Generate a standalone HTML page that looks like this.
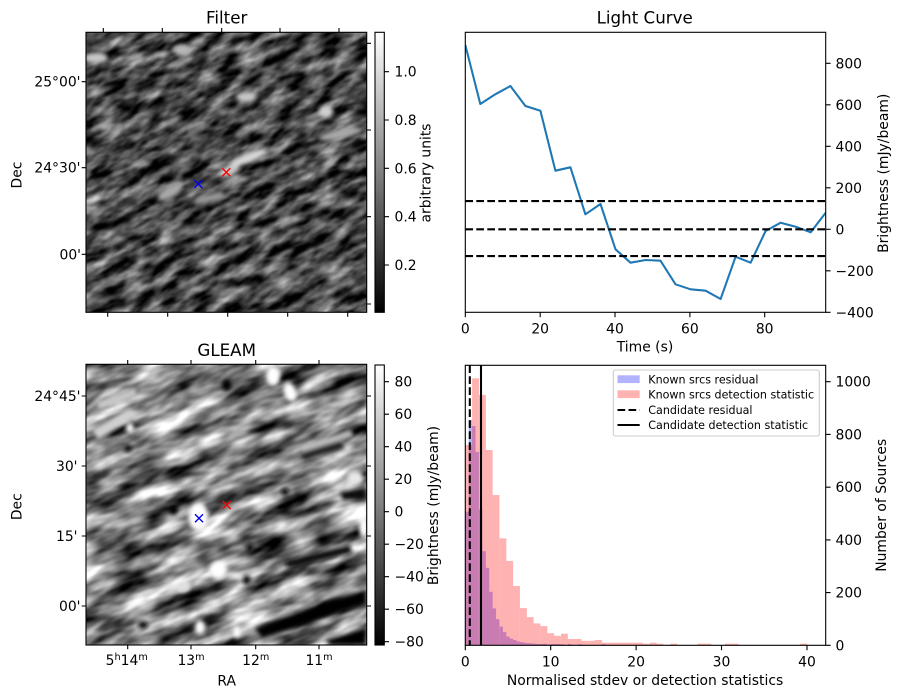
<!DOCTYPE html>
<html><head><meta charset="utf-8"><style>
html,body{margin:0;padding:0;background:#fff;width:902px;height:699px;overflow:hidden;}
svg{display:block;}
text{font-family:"DejaVu Sans","Liberation Sans",sans-serif;fill:#000;}
</style></head><body>
<svg width="902" height="699" viewBox="0 0 902 699" xmlns="http://www.w3.org/2000/svg">
<defs>
  <clipPath id="c1"><rect x="86" y="32.3" width="280.7" height="280"/></clipPath>
  <clipPath id="c2"><rect x="86" y="364.3" width="280.7" height="280.7"/></clipPath>
  <clipPath id="c3"><rect x="465.3" y="32.3" width="360.4" height="280"/></clipPath>
  <clipPath id="c4"><rect x="465.3" y="365.3" width="360.4" height="280"/></clipPath>
  <filter id="n1" filterUnits="userSpaceOnUse" x="30" y="-24" width="392" height="392" color-interpolation-filters="sRGB">
    <feTurbulence type="fractalNoise" baseFrequency="0.038 0.1" numOctaves="3" seed="7"/>
    <feColorMatrix type="matrix" values="1.35 0 0 0 -0.39  1.35 0 0 0 -0.39  1.35 0 0 0 -0.39  0 0 0 0 1"/>
    <feGaussianBlur stdDeviation="0.8"/>
  </filter>
  <filter id="n2" filterUnits="userSpaceOnUse" x="30" y="309" width="392" height="392" color-interpolation-filters="sRGB">
    <feTurbulence type="fractalNoise" baseFrequency="0.022 0.065" numOctaves="3" seed="11"/>
    <feColorMatrix type="matrix" values="1.75 0 0 0 -0.37  1.75 0 0 0 -0.37  1.75 0 0 0 -0.37  0 0 0 0 1"/>
    <feGaussianBlur stdDeviation="0.8"/>
  </filter>
  <filter id="bl" x="-50%" y="-50%" width="200%" height="200%"><feGaussianBlur stdDeviation="2"/></filter>
  <linearGradient id="cb" x1="0" y1="1" x2="0" y2="0">
    <stop offset="0" stop-color="#000"/><stop offset="1" stop-color="#fff"/>
  </linearGradient>
</defs>

<!-- ===== Filter image ===== -->
<g clip-path="url(#c1)">
  <rect x="86" y="32.3" width="280.7" height="280" fill="#444"/>
  <g transform="rotate(-28 226 172)">
    <rect x="226" y="172" width="1" height="1" fill="#444" filter="url(#n1)"/>
  </g>
  <g filter="url(#bl)">
    <ellipse cx="248" cy="158" rx="20" ry="5" fill="#d8d8d8" transform="rotate(-22 248 158)"/>
    <ellipse cx="230" cy="170" rx="10" ry="4" fill="#cccccc" transform="rotate(-20 230 170)"/>
    <ellipse cx="170" cy="192" rx="14" ry="6" fill="#a8a8a8" transform="rotate(-30 170 192)"/>
    <ellipse cx="326" cy="112" rx="7" ry="6" fill="#d0d0d0"/>
    <ellipse cx="246" cy="97" rx="10" ry="5" fill="#c8c8c8"/>
    <ellipse cx="182" cy="50" rx="9" ry="6" fill="#b8b8b8"/>
    <ellipse cx="96" cy="58" rx="12" ry="5" fill="#c8c8c8"/>
    <ellipse cx="340" cy="134" rx="22" ry="5" fill="#a8a8a8" transform="rotate(-12 340 134)"/>
    <ellipse cx="210" cy="198" rx="16" ry="4" fill="#9a9a9a" transform="rotate(-12 210 198)"/>
  </g>
</g>
<rect x="86" y="32.3" width="280.7" height="280" fill="none" stroke="#000" stroke-width="1.1"/>
<g stroke-width="1.4" fill="none">
  <path d="M222.3 168.3 L230.3 176.3 M230.3 168.3 L222.3 176.3" stroke="#f00"/>
  <path d="M194.3 180 L202.3 188 M202.3 180 L194.3 188" stroke="#00f"/>
</g>
<g stroke="#000" stroke-width="1.1">
  <path d="M81.7 81.7H86 M81.7 167.7H86 M81.7 254.3H86"/>
  <path d="M366.7 43.3H371 M366.7 130H371 M366.7 216.7H371 M366.7 304H371"/>
  <path d="M103.3 28V32.3 M162.3 28V32.3 M221.7 28V32.3 M280 28V32.3 M339 28V32.3"/>
  <path d="M107.7 312.3V316.7 M167.7 312.3V316.7 M227.7 312.3V316.7 M287.7 312.3V316.7 M347.7 312.3V316.7"/>
</g>
<g font-size="13.9" text-anchor="end">
  <text x="80.5" y="86.7">25°00'</text>
  <text x="80.5" y="172.7">24°30'</text>
  <text x="81" y="259.3">00'</text>
</g>
<text x="226.7" y="23.5" font-size="16.7" text-anchor="middle">Filter</text>
<text transform="translate(21.5 175) rotate(-90)" font-size="13.9" text-anchor="middle">Dec</text>

<rect x="375" y="32.3" width="9.3" height="280" fill="url(#cb)" stroke="#000" stroke-width="1.1"/>
<g stroke="#000" stroke-width="1.1">
  <path d="M384.3 71.7H389 M384.3 120H389 M384.3 168.3H389 M384.3 216.7H389 M384.3 265H389"/>
</g>
<g font-size="13.9">
  <text x="394.5" y="76.7">1.0</text>
  <text x="394.5" y="125">0.8</text>
  <text x="394.5" y="173.3">0.6</text>
  <text x="394.5" y="221.7">0.4</text>
  <text x="394.5" y="270">0.2</text>
</g>
<text transform="translate(430.5 173) rotate(-90)" font-size="13.9" text-anchor="middle">arbitrary units</text>

<!-- ===== GLEAM image ===== -->
<g clip-path="url(#c2)">
  <rect x="86" y="364.3" width="280.7" height="280.7" fill="#808080"/>
  <g transform="rotate(-22 226 505)">
    <rect x="226" y="505" width="1" height="1" fill="#808080" filter="url(#n2)"/>
  </g>
  <g filter="url(#bl)">
    <path d="M255 628 L300 612 L340 598 L366 590 L366 604 L340 612 L300 626 L262 638 Z" fill="#000"/>
    <path d="M325 640 L366 628 L366 645 L330 645 Z" fill="#000"/>
    <path d="M285 561 L320 552 L350 545 L352 553 L322 560 L288 568 Z" fill="#111"/>
    <path d="M340 492 L366 487 L366 500 L342 500 Z" fill="#111"/>
    <path d="M300 452 L340 440 L345 448 L304 460 Z" fill="#222"/>
    <ellipse cx="226.7" cy="385" rx="5" ry="6" fill="#000"/>
    <ellipse cx="173.3" cy="510" rx="5" ry="5" fill="#000"/>
    <ellipse cx="128" cy="448" rx="4" ry="4" fill="#111"/>
    <ellipse cx="285" cy="492" rx="4" ry="4" fill="#111"/>
    <ellipse cx="250" cy="548" rx="4" ry="5" fill="#111"/>
    <ellipse cx="246.7" cy="580" rx="4" ry="5" fill="#111"/>
    <ellipse cx="143" cy="625" rx="5" ry="4" fill="#111"/>
    <ellipse cx="130" cy="420" rx="3" ry="4" fill="#111"/>
    <path d="M92 430 L130 408 L138 416 L98 440 Z" fill="#d0d0d0"/>
    <path d="M96 402 L135 388 L138 396 L100 410 Z" fill="#c8c8c8"/>
    <path d="M300 446 L350 430 L354 436 L302 452 Z" fill="#c0c0c0"/>
  </g>
  <g filter="url(#bl)">
    <ellipse cx="198.3" cy="516.7" rx="10" ry="14" fill="#fff"/>
    <ellipse cx="273.3" cy="376" rx="7" ry="10" fill="#fff"/>
    <ellipse cx="290" cy="392" rx="6" ry="10" fill="#fff" transform="rotate(-20 290 392)"/>
    <ellipse cx="218.3" cy="570" rx="8" ry="9" fill="#fff"/>
    <ellipse cx="364" cy="527" rx="5" ry="10" fill="#fff"/>
    <ellipse cx="355" cy="478" rx="8" ry="7" fill="#e8e8e8"/>
    <ellipse cx="200" cy="627" rx="5" ry="7" fill="#fff"/>
    <ellipse cx="237" cy="632" rx="4" ry="6" fill="#fff"/>
    <ellipse cx="130" cy="428" rx="4" ry="5" fill="#fff"/>
    <ellipse cx="183" cy="587" rx="8" ry="6" fill="#e0e0e0"/>
  </g>
</g>
<rect x="86" y="364.3" width="280.7" height="280.7" fill="none" stroke="#000" stroke-width="1.1"/>
<g stroke-width="1.4" fill="none">
  <path d="M222.7 501 L230.7 509 M230.7 501 L222.7 509" stroke="#f00"/>
  <path d="M195 514.3 L203 522.3 M203 514.3 L195 522.3" stroke="#00f"/>
</g>
<g stroke="#000" stroke-width="1.1">
  <path d="M81.7 396H86 M81.7 466H86 M81.7 536H86 M81.7 606H86"/>
  <path d="M366.7 396H371 M366.7 466H371 M366.7 536H371 M366.7 606H371"/>
  <path d="M127.7 360V364.3 M191 360V364.3 M255.7 360V364.3 M319 360V364.3"/>
  <path d="M127.7 645V649.3 M191 645V649.3 M255.7 645V649.3 M319 645V649.3"/>
</g>
<g font-size="13.9" text-anchor="end">
  <text x="80.5" y="401">24°45'</text>
  <text x="77.5" y="471">30'</text>
  <text x="77.5" y="541">15'</text>
  <text x="80.5" y="611">00'</text>
</g>
<g font-size="13.9" text-anchor="middle">
  <text x="126.7" y="665">5<tspan font-size="9.7" dy="-5">h</tspan><tspan dy="5">14</tspan><tspan font-size="9.7" dy="-5">m</tspan></text>
  <text x="191" y="665">13<tspan font-size="9.7" dy="-5">m</tspan></text>
  <text x="255.7" y="665">12<tspan font-size="9.7" dy="-5">m</tspan></text>
  <text x="319" y="665">11<tspan font-size="9.7" dy="-5">m</tspan></text>
</g>
<text x="226.7" y="685.7" font-size="13.9" text-anchor="middle">RA</text>
<text x="226.7" y="356" font-size="16.7" text-anchor="middle">GLEAM</text>
<text transform="translate(21.5 506.7) rotate(-90)" font-size="13.9" text-anchor="middle">Dec</text>

<rect x="375" y="365" width="9.3" height="280" fill="url(#cb)" stroke="#000" stroke-width="1.1"/>
<g stroke="#000" stroke-width="1.1">
  <path d="M384.3 381.7H389 M384.3 414.2H389 M384.3 446.7H389 M384.3 479.2H389 M384.3 511.7H389 M384.3 544.2H389 M384.3 576.7H389 M384.3 609.2H389 M384.3 641.7H389"/>
</g>
<g font-size="13.9">
  <text x="394.5" y="386.7">80</text>
  <text x="394.5" y="419.2">60</text>
  <text x="394.5" y="451.7">40</text>
  <text x="394.5" y="484.2">20</text>
  <text x="394.5" y="516.7">0</text>
  <text x="394.5" y="549.2">−20</text>
  <text x="394.5" y="581.7">−40</text>
  <text x="394.5" y="614.2">−60</text>
  <text x="394.5" y="646.7">−80</text>
</g>
<text transform="translate(438 505.5) rotate(-90)" font-size="13.9" text-anchor="middle">Brightness (mJy/beam)</text>

<!-- ===== Light curve ===== -->
<g clip-path="url(#c3)">
  <polyline fill="none" stroke="#1f77b4" stroke-width="2.08" stroke-linejoin="round" points="465.3,45 480.3,104 495.3,94.3 510.4,86 525.4,106 540.4,110.7 555.4,170.7 570.4,167.3 585.4,214.3 600.5,204 615.5,249.3 630.5,262.7 645.5,260 660.5,260.7 675.5,284.3 690.6,289.3 705.6,290.7 720.6,299 735.6,256.7 750.6,262.7 765.6,231 780.7,222.7 795.7,226.7 810.7,232.3 825.7,212.7"/>
  <g stroke="#000" stroke-width="2.08" stroke-dasharray="7.7 3.3">
    <path d="M465.3 201.1H826"/>
    <path d="M465.3 229.3H826"/>
    <path d="M465.3 256.1H826"/>
  </g>
</g>
<rect x="465.3" y="32.3" width="360.4" height="280" fill="none" stroke="#000" stroke-width="1.1"/>
<g stroke="#000" stroke-width="1.1">
  <path d="M465.3 312.3V317.2 M540.2 312.3V317.2 M615 312.3V317.2 M689.9 312.3V317.2 M764.7 312.3V317.2"/>
  <path d="M825.7 63.3H830.6 M825.7 104.8H830.6 M825.7 146.3H830.6 M825.7 187.8H830.6 M825.7 229.3H830.6 M825.7 270.8H830.6 M825.7 312.3H830.6"/>
</g>
<g font-size="13.9" text-anchor="middle">
  <text x="465.3" y="333.3">0</text>
  <text x="540.2" y="333.3">20</text>
  <text x="615" y="333.3">40</text>
  <text x="689.9" y="333.3">60</text>
  <text x="764.7" y="333.3">80</text>
</g>
<g font-size="13.9">
  <text x="835.5" y="68.3">800</text>
  <text x="835.5" y="109.8">600</text>
  <text x="835.5" y="151.3">400</text>
  <text x="835.5" y="192.8">200</text>
  <text x="835.5" y="234.3">0</text>
  <text x="835.5" y="275.8">−200</text>
  <text x="835.5" y="317.3">−400</text>
</g>
<text x="645" y="351.5" font-size="13.9" text-anchor="middle">Time (s)</text>
<text x="644.7" y="23.5" font-size="16.7" text-anchor="middle">Light Curve</text>
<text transform="translate(888 173.3) rotate(-90)" font-size="13.9" text-anchor="middle">Brightness (mJy/beam)</text>

<!-- ===== Histogram ===== -->
<g clip-path="url(#c4)">
  <g fill="#0000ff" fill-opacity="0.3">
    <rect x="465.3" y="511.7" width="3.42" height="133.6"/>
    <rect x="468.7" y="419.9" width="3.42" height="225.4"/>
    <rect x="472.1" y="426.0" width="3.42" height="219.3"/>
    <rect x="475.5" y="452.0" width="3.42" height="193.3"/>
    <rect x="479.0" y="509.5" width="3.42" height="135.8"/>
    <rect x="482.4" y="551.2" width="3.42" height="94.1"/>
    <rect x="485.8" y="567.8" width="3.42" height="77.5"/>
    <rect x="489.2" y="591.8" width="3.42" height="53.5"/>
    <rect x="492.6" y="608.4" width="3.42" height="36.9"/>
    <rect x="496.0" y="619.2" width="3.42" height="26.1"/>
    <rect x="499.5" y="626.6" width="3.42" height="18.7"/>
    <rect x="502.9" y="632.1" width="3.42" height="13.2"/>
    <rect x="506.3" y="636.6" width="3.42" height="8.7"/>
    <rect x="509.7" y="638.7" width="3.42" height="6.6"/>
    <rect x="513.1" y="640.0" width="3.42" height="5.3"/>
    <rect x="516.5" y="641.3" width="3.42" height="4.0"/>
    <rect x="519.9" y="642.1" width="3.42" height="3.2"/>
    <rect x="523.4" y="642.7" width="3.42" height="2.6"/>
    <rect x="526.8" y="643.2" width="3.42" height="2.1"/>
    <rect x="530.2" y="643.5" width="3.42" height="1.8"/>
    <rect x="533.6" y="643.7" width="3.42" height="1.6"/>
    <rect x="537.0" y="644.0" width="3.42" height="1.3"/>
    <rect x="540.4" y="644.0" width="3.42" height="1.3"/>
    <rect x="543.8" y="643.7" width="3.42" height="1.6"/>
    <rect x="547.3" y="644.5" width="3.42" height="0.8"/>
    <rect x="550.7" y="644.0" width="3.42" height="1.3"/>
    <rect x="554.1" y="644.0" width="3.42" height="1.3"/>
    <rect x="557.5" y="644.0" width="3.42" height="1.3"/>
    <rect x="560.9" y="644.2" width="3.42" height="1.1"/>
    <rect x="567.8" y="644.0" width="3.42" height="1.3"/>
    <rect x="578.0" y="644.2" width="3.42" height="1.1"/>
    <rect x="601.9" y="644.2" width="3.42" height="1.1"/>
  </g>
  <g fill="#ff0000" fill-opacity="0.3">
    <rect x="465.3" y="445.0" width="6.84" height="200.3"/>
    <rect x="472.1" y="378.3" width="6.84" height="267.0"/>
    <rect x="479.0" y="394.9" width="6.84" height="250.4"/>
    <rect x="485.8" y="450.0" width="6.84" height="195.3"/>
    <rect x="492.6" y="495.0" width="6.84" height="150.3"/>
    <rect x="499.5" y="538.3" width="6.84" height="107.0"/>
    <rect x="506.3" y="560.9" width="6.84" height="84.4"/>
    <rect x="513.1" y="586.0" width="6.84" height="59.3"/>
    <rect x="520.0" y="608.1" width="6.84" height="37.2"/>
    <rect x="526.8" y="617.1" width="6.84" height="28.2"/>
    <rect x="533.6" y="623.4" width="6.84" height="21.9"/>
    <rect x="540.5" y="626.1" width="6.84" height="19.2"/>
    <rect x="547.3" y="633.2" width="6.84" height="12.1"/>
    <rect x="554.1" y="635.8" width="6.84" height="9.5"/>
    <rect x="561.0" y="633.7" width="6.84" height="11.6"/>
    <rect x="567.8" y="639.0" width="6.84" height="6.3"/>
    <rect x="574.6" y="639.0" width="6.84" height="6.3"/>
    <rect x="581.4" y="640.8" width="6.84" height="4.5"/>
    <rect x="588.3" y="640.8" width="6.84" height="4.5"/>
    <rect x="595.1" y="640.0" width="6.84" height="5.3"/>
    <rect x="601.9" y="642.7" width="41.0" height="2.6"/>
    <rect x="642.9" y="643.7" width="6.84" height="1.6"/>
    <rect x="649.8" y="642.7" width="6.84" height="2.6"/>
    <rect x="656.6" y="643.7" width="6.84" height="1.6"/>
    <rect x="670.3" y="643.7" width="6.84" height="1.6"/>
    <rect x="697.6" y="643.7" width="13.68" height="1.6"/>
    <rect x="724.9" y="643.7" width="13.68" height="1.6"/>
    <rect x="800.1" y="643.7" width="6.84" height="1.6"/>
  </g>
  <path d="M469.8 365.3V645.3" stroke="#000" stroke-width="2.08" stroke-dasharray="7.7 3.3"/>
  <path d="M481 365.3V645.3" stroke="#000" stroke-width="2.08"/>
</g>
<rect x="465.3" y="365.3" width="360.4" height="280" fill="none" stroke="#000" stroke-width="1.1"/>
<g stroke="#000" stroke-width="1.1">
  <path d="M465.3 645.3V650.2 M550.7 645.3V650.2 M636.1 645.3V650.2 M721.5 645.3V650.2 M807 645.3V650.2"/>
  <path d="M825.7 645.3H830.6 M825.7 592.6H830.6 M825.7 539.9H830.6 M825.7 487.2H830.6 M825.7 434.4H830.6 M825.7 381.7H830.6"/>
</g>
<g font-size="13.9" text-anchor="middle">
  <text x="465.3" y="666.7">0</text>
  <text x="550.7" y="666.7">10</text>
  <text x="636.1" y="666.7">20</text>
  <text x="721.5" y="666.7">30</text>
  <text x="807" y="666.7">40</text>
</g>
<g font-size="13.9">
  <text x="835.5" y="650.3">0</text>
  <text x="835.5" y="597.6">200</text>
  <text x="835.5" y="544.9">400</text>
  <text x="835.5" y="492.2">600</text>
  <text x="835.5" y="439.4">800</text>
  <text x="835.5" y="386.7">1000</text>
</g>
<text x="645" y="685" font-size="13.9" text-anchor="middle">Normalised stdev or detection statistics</text>
<text transform="translate(886 505.3) rotate(-90)" font-size="13.9" text-anchor="middle">Number of Sources</text>

<rect x="613.3" y="370" width="206" height="66" rx="2" ry="2" fill="#fff" fill-opacity="0.8" stroke="#cccccc" stroke-width="1.1"/>
<rect x="617.5" y="375.3" width="22.2" height="7.8" fill="#0000ff" fill-opacity="0.3"/>
<rect x="617.5" y="390.3" width="22.2" height="7.8" fill="#ff0000" fill-opacity="0.3"/>
<path d="M617.5 410H639.7" stroke="#000" stroke-width="2.08" stroke-dasharray="7.7 3.3"/>
<path d="M617.5 425H639.7" stroke="#000" stroke-width="2.08"/>
<g font-size="11.1">
  <text x="648.3" y="383.3">Known srcs residual</text>
  <text x="648.3" y="398.3">Known srcs detection statistic</text>
  <text x="648.3" y="414">Candidate residual</text>
  <text x="648.3" y="429">Candidate detection statistic</text>
</g>
</svg>
</body></html>
